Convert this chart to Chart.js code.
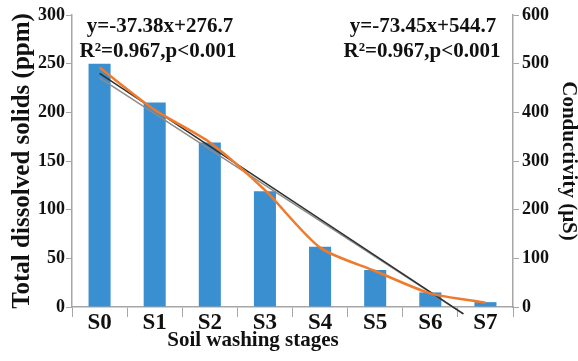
<!DOCTYPE html>
<html>
<head>
<meta charset="utf-8">
<script src="https://cdn.jsdelivr.net/npm/chart.js@4.4.0/dist/chart.umd.min.js"></script>
<style>
  html, body { margin: 0; padding: 0; background: #fff; }
  #wrap { width: 578px; height: 361px; }
</style>
</head>
<body>
<div id="wrap"><canvas id="chart1" width="578" height="361"></canvas></div>
<script>
// data
const stages = ["S0", "S1", "S2", "S3", "S4", "S5", "S6", "S7"];
const tds = [250, 210, 169, 119, 62, 38, 15, 5];          // ppm, bars
const conductivity = [492, 405, 338, 240, 122, 74, 28, 9]; // μS, orange line
// fitted lines, endpoints (x = stage index)
const fitTds = [{x: 0, y: 240}, {x: 6.6, y: -7}];
const fitCond = [{x: 0, y: 471}, {x: 6.6, y: -14}];
const tdsTicks = [0, 50, 100, 150, 200, 250, 300];
const condTicks = [0, 100, 200, 300, 400, 500, 600];

const serif = "'Liberation Serif', 'Times New Roman', serif";
const axisGray = "#a6a6a6";

// equations and x title drawn as plain text
const labelsPlugin = {
    id: "labels",
    afterDraw(chart) {
        const ctx = chart.ctx;
        ctx.save();
        ctx.fillStyle = "#111";
        ctx.textAlign = "center";
        ctx.textBaseline = "middle";
        ctx.font = "bold 21px " + serif;
        ctx.fillText("y=-37.38x+276.7", 160, 27);
        ctx.fillText("R\u00b2=0.967,p<0.001", 158, 52);
        ctx.fillText("y=-73.45x+544.7", 423, 27);
        ctx.fillText("R\u00b2=0.967,p<0.001", 422, 52);
        ctx.fillText("Soil washing stages", 253, 341);
        ctx.restore();
    }
};

const chart1 = document.getElementById("chart1");

const tdsChart = new Chart(chart1, {
    type: "bar",
    data: {
        labels: stages,
        datasets: [
            {
                type: "line",
                label: "Conductivity",
                data: conductivity,
                yAxisID: "y1",
                borderColor: "#ef7a2c",
                borderWidth: 2.5,
                pointRadius: 0,
                tension: 0.25,
                order: 1
            },
            {
                type: "line",
                label: "fit TDS",
                data: fitTds,
                xAxisID: "x2",
                yAxisID: "y",
                borderColor: "#2f2f2f",
                borderWidth: 1.5,
                pointRadius: 0,
                clip: false,
                order: 2
            },
            {
                type: "line",
                label: "fit conductivity",
                data: fitCond,
                xAxisID: "x2",
                yAxisID: "y1",
                borderColor: "#8c8c8c",
                borderWidth: 1.5,
                pointRadius: 0,
                clip: false,
                order: 3
            },
            {
                label: "TDS",
                data: tds,
                yAxisID: "y",
                backgroundColor: "#3a8fd1",
                grouped: false,
                categoryPercentage: 1,
                barPercentage: 0.4,
                order: 4
            }
        ]
    },
    options: {
        responsive: false,
        animation: false,
        layout: { padding: { top: 15 } },
        plugins: {
            legend: { display: false },
            tooltip: { enabled: false }
        },
        scales: {
            x: {
                afterFit: (s) => { s.height = 54; },
                border: { color: axisGray, width: 1.5 },
                grid: { drawOnChartArea: false, color: axisGray, tickLength: 10, offset: true },
                ticks: {
                    color: "#111",
                    padding: -8,
                    font: { family: serif, size: 23, weight: "bold" }
                }
            },
            x2: {
                type: "linear",
                display: false,
                offset: false,
                min: -0.5,
                max: 7.5
            },
            y: {
                position: "left",
                min: 0,
                max: 300,
                afterFit: (s) => { s.width = 72; },
                afterBuildTicks: (s) => { s.ticks = tdsTicks.map(v => ({value: v})); },
                border: { color: axisGray, width: 1.5 },
                grid: { drawOnChartArea: false, color: axisGray, tickLength: 6 },
                ticks: {
                    color: "#111",
                    padding: 1,
                    font: { family: serif, size: 18, weight: "bold" }
                },
                title: {
                    display: true,
                    text: "Total dissolved solids (ppm)",
                    color: "#111",
                    padding: { top: 10 },
                    font: { family: serif, size: 25, weight: "bold", lineHeight: 1 }
                }
            },
            y1: {
                position: "right",
                min: 0,
                max: 600,
                afterFit: (s) => { s.width = 65; },
                afterBuildTicks: (s) => { s.ticks = condTicks.map(v => ({value: v})); },
                border: { color: axisGray, width: 1.5 },
                grid: { drawOnChartArea: false, color: axisGray, tickLength: 6 },
                ticks: {
                    color: "#111",
                    padding: 3,
                    font: { family: serif, size: 18, weight: "bold" }
                },
                title: {
                    display: true,
                    text: "Conductivity (\u03bcS)",
                    color: "#111",
                    padding: { top: -1 },
                    font: { family: serif, size: 21, weight: "bold", lineHeight: 1 }
                }
            }
        }
    },
    plugins: [labelsPlugin]
});
</script>
</body>
</html>
